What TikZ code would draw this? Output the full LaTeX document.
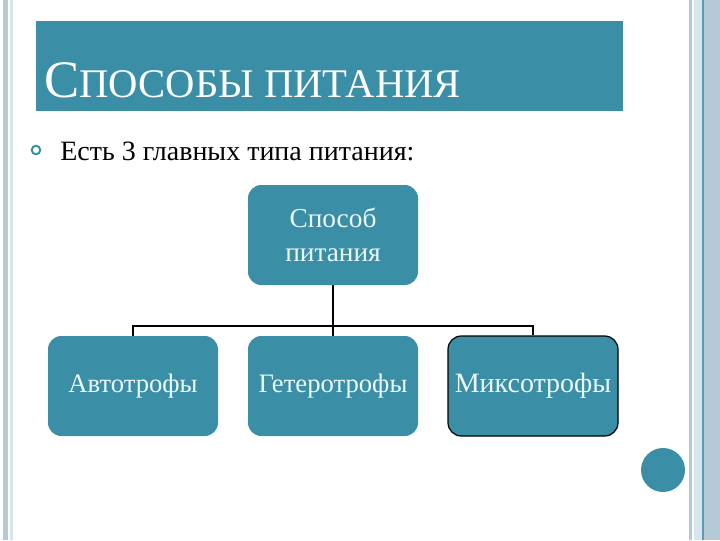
\documentclass[tikz,border=0pt]{standalone}
\usepackage{fontspec}
\setmainfont{Liberation Serif}
\usepackage{tikz}
\definecolor{biryuza}{HTML}{3A8FA7}
\definecolor{ramka}{HTML}{B5CAD6}
\definecolor{ramkasvet}{HTML}{D5E6EE}
\definecolor{ramkatemn}{HTML}{5E9BB5}
\tikzstyle{blok} = [rectangle, rounded corners=10pt, minimum width=127.5pt, minimum height=75pt, text centered, align=center, fill=biryuza, text=white!92!cyan, font=\fontsize{20}{25.5}\selectfont]
\tikzstyle{liniya} = [line width=1.5pt, black]

\begin{document}
\begin{tikzpicture}[x=0.75pt, y=-0.75pt]
    \useasboundingbox (0,0) rectangle (720,540);
    \fill[ramka] (3,0) rectangle (8,540);
    \fill[ramkasvet] (10,0) rectangle (13,540);
    \fill[ramka] (689,0) rectangle (692,540);
    \fill[ramkasvet] (694,0) rectangle (702,540);
    \fill[ramkatemn] (702,0) rectangle (704,540);
    \fill[ramka] (704,0) rectangle (720,540);

    \fill[biryuza] (36,21) rectangle (623,111);
    \node (zagolovok) [anchor=base west, inner sep=0, text=white] at (44,97) {\fontsize{39.5}{40}\selectfont С\fontsize{30.5}{40}\selectfont ПОСОБЫ ПИТАНИЯ};

    \draw[biryuza, line width=1.5pt] (36,150) circle (3.2pt);
    \node (tekst) [anchor=base west, inner sep=0, font=\fontsize{21}{24}\selectfont] at (60,160) {Есть 3 главных типа питания:};

    \node (sposob) [blok, font=\fontsize{20.5}{25.5}\selectfont] at (333,235) {Способ\\питания};
    \node (getero) [blok, below of=sposob, node distance=113.25pt] {Гетеротрофы};
    \node (avto) [blok, left of=getero, node distance=150pt] {Автотрофы};
    \node (mikso) [blok, right of=getero, node distance=150pt, draw=black, line width=0.9pt, font=\fontsize{21}{25}\selectfont] {Миксотрофы};
    \coordinate (shina) at (333,326);

    \draw [liniya] (sposob) -- (shina);
    \draw [liniya] (shina) -- (getero);
    \draw [liniya] (shina) -| (avto);
    \draw [liniya] (shina) -| (mikso);

    \fill[biryuza] (663,470) circle (16.5pt);
\end{tikzpicture}
\end{document}
